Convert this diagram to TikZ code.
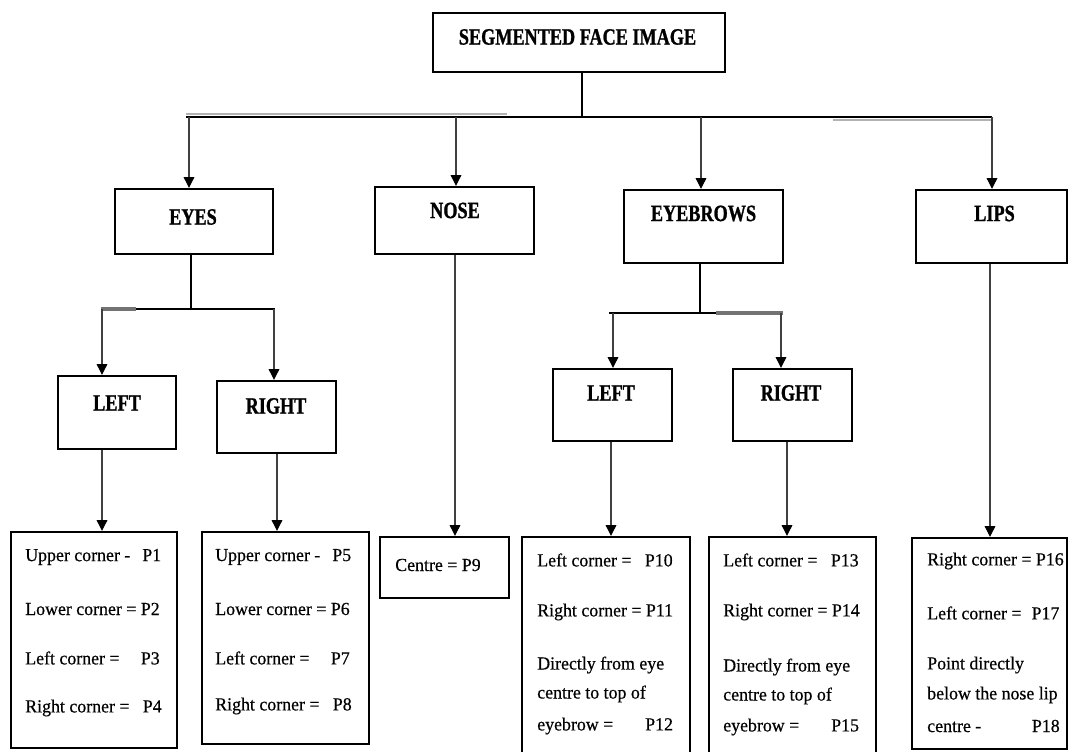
\documentclass[tikz,border=0pt]{standalone}
\usepackage{fontspec}
\setmainfont{Liberation Serif}
\newfontfamily\lblfont{Liberation Serif}[FakeStretch=0.78,FakeBold=1]
\newfontfamily\boxfont{Liberation Serif}[FakeStretch=0.97,FakeBold=0.5]
\usetikzlibrary{arrows.meta}
\begin{document}
\begin{tikzpicture}[x=0.75pt,y=-0.75pt,
  box/.style={draw, line width=1.8pt, inner sep=0, rectangle},
  lbl/.style={font=\lblfont\bfseries\fontsize{17.5}{20}\selectfont, inner sep=0},
  txt/.style={font=\boxfont\fontsize{13.8}{16}\selectfont, anchor=west, inner sep=0},
  ln/.style={line width=1.6pt},
  shade/.style={line width=2.6pt, draw=black!55},
  arr/.style={line width=0.8pt, draw=black!75, -{Triangle[width=8pt,length=8pt,color=black]}}
]
\useasboundingbox (0,0) rectangle (1070,752);
\clip (0,0) rectangle (1070,752);
\fill[white] (0,0) rectangle (1070,752);

% boxes
\node[box, minimum width=219pt, minimum height=44.25pt] (title) at (579,42.5) {};
\node[box, minimum width=118.5pt, minimum height=48.75pt] (eyes) at (194,221.5) {};
\node[box, minimum width=119.25pt, minimum height=50.25pt] (nose) at (454.5,220.5) {};
\node[box, minimum width=119.25pt, minimum height=54.75pt] (brows) at (703.5,226.5) {};
\node[box, minimum width=113.25pt, minimum height=54.75pt] (lips) at (991.5,226.5) {};
\node[box, minimum width=88.5pt, minimum height=54.75pt] (eyeL) at (117,412.5) {};
\node[box, minimum width=89.25pt, minimum height=54pt] (eyeR) at (276.5,417) {};
\node[box, minimum width=89.25pt, minimum height=54pt] (browL) at (612.5,405) {};
\node[box, minimum width=89.25pt, minimum height=54pt] (browR) at (792.5,405) {};
\node[box, minimum width=124.5pt, minimum height=162pt] (b1) at (94,640) {};
\node[box, minimum width=125.25pt, minimum height=159pt] (b2) at (285.5,638) {};
\node[box, minimum width=96.75pt, minimum height=45.75pt] (b3) at (444.5,567.5) {};
\node[box, minimum width=126pt, minimum height=174.75pt] (b4) at (606,653.5) {};
\node[box, minimum width=125.25pt, minimum height=174.75pt] (b5) at (792.5,653.5) {};
\node[box, minimum width=116.25pt, minimum height=158.25pt] (b6) at (989.5,643.5) {};

% labels
\node[lbl] (titleT) at (577.5,37) {SEGMENTED FACE IMAGE};
\node[lbl] (eyesT) at (193,217) {EYES};
\node[lbl] (noseT) at (455,210.5) {NOSE};
\node[lbl] (browsT) at (703.5,213.5) {EYEBROWS};
\node[lbl] (lipsT) at (994.5,213.5) {LIPS};
\node[lbl] (eyeLT) at (117,403) {LEFT};
\node[lbl] (eyeRT) at (276,406) {RIGHT};
\node[lbl] (browLT) at (611,393) {LEFT};
\node[lbl] (browRT) at (791,393) {RIGHT};

% box texts
\node[txt] (t1a) at (25,557) {Upper corner -\hspace{9pt}P1};
\node[txt] (t1b) at (25,609) {Lower corner = P2};
\node[txt] (t1c) at (25,658) {Left corner =\hspace{16pt}P3};
\node[txt] (t1d) at (25,708) {Right corner =\hspace{10pt}P4};
\node[txt] (t2a) at (215,557) {Upper corner -\hspace{9pt}P5};
\node[txt] (t2b) at (215,609) {Lower corner = P6};
\node[txt] (t2c) at (215,658) {Left corner =\hspace{16pt}P7};
\node[txt] (t2d) at (215,706) {Right corner =\hspace{10pt}P8};
\node[txt] (t3a) at (395,565) {Centre = P9};
\node[txt] (t4a) at (537,560) {Left corner =\hspace{10pt}P10};
\node[txt] (t4b) at (537,612) {Right corner = P11};
\node[txt] (t4c) at (537,665) {Directly from eye};
\node[txt] (t4d) at (537,694) {centre to top of};
\node[txt] (t4e) at (537,726) {eyebrow =\hspace{24pt}P12};
\node[txt] (t5a) at (723,560) {Left corner =\hspace{10pt}P13};
\node[txt] (t5b) at (723,612) {Right corner = P14};
\node[txt] (t5c) at (723,667) {Directly from eye};
\node[txt] (t5d) at (723,696) {centre to top of};
\node[txt] (t5e) at (723,727) {eyebrow =\hspace{24pt}P15};
\node[txt] (t6a) at (927,561) {Right corner = P16};
\node[txt] (t6b) at (927,613) {Left corner =\hspace{7.5pt}P17};
\node[txt] (t6c) at (927,665) {Point directly};
\node[txt] (t6d) at (927,695) {below the nose lip};
\node[txt] (t6e) at (927,726) {centre -\hspace{38pt}P18};

% top level bus
\coordinate (tstem) at (582,117);
\coordinate (busL) at (186,117);
\coordinate (busR) at (992,117);
\draw[ln] (tstem |- title.south) -- (tstem);
\draw[black!30, line width=1pt] (186,114) -- (507,114);
\draw[black!30, line width=1pt] (833,120) -- (992,120);
\draw[ln] (busL) -- (busR);
\coordinate (aE) at (189,117);
\coordinate (aN) at (456,117);
\coordinate (aB) at (701,117);
\coordinate (aL) at (992,117);
\draw[arr] (aE) -- (aE |- eyes.north);
\draw[arr] (aN) -- (aN |- nose.north);
\draw[arr] (aB) -- (aB |- brows.north);
\draw[arr] (aL) -- (aL |- lips.north);

% eyes sub-bus
\coordinate (estem) at (191,309);
\coordinate (eL) at (102,309);
\coordinate (eR) at (274,309);
\draw[ln] (estem |- eyes.south) -- (estem);
\draw[ln] (101,309) -- (275,309);
\draw[shade] (101,309) -- (136,309);
\draw[arr] (eL) -- (eL |- eyeL.north);
\draw[arr] (eR) -- (eR |- eyeR.north);

% eyebrows sub-bus
\coordinate (bstem) at (700,313);
\coordinate (bL) at (613,313);
\coordinate (bR) at (781,313);
\draw[ln] (bstem |- brows.south) -- (bstem);
\draw[ln] (609,313) -- (783,313);
\draw[shade] (716,313) -- (783,313);
\draw[arr] (bL) -- (bL |- browL.north);
\draw[arr] (bR) -- (bR |- browR.north);

% down to leaf boxes
\coordinate (d1) at (102,0);
\coordinate (d2) at (277,0);
\coordinate (d3) at (455,0);
\coordinate (d4) at (611,0);
\coordinate (d5) at (787,0);
\coordinate (d6) at (990,0);
\draw[arr] (d1 |- eyeL.south) -- (d1 |- b1.north);
\draw[arr] (d2 |- eyeR.south) -- (d2 |- b2.north);
\draw[arr] (d3 |- nose.south) -- (d3 |- b3.north);
\draw[arr] (d4 |- browL.south) -- (d4 |- b4.north);
\draw[arr] (d5 |- browR.south) -- (d5 |- b5.north);
\draw[arr] (d6 |- lips.south) -- (d6 |- b6.north);
\end{tikzpicture}
\end{document}
